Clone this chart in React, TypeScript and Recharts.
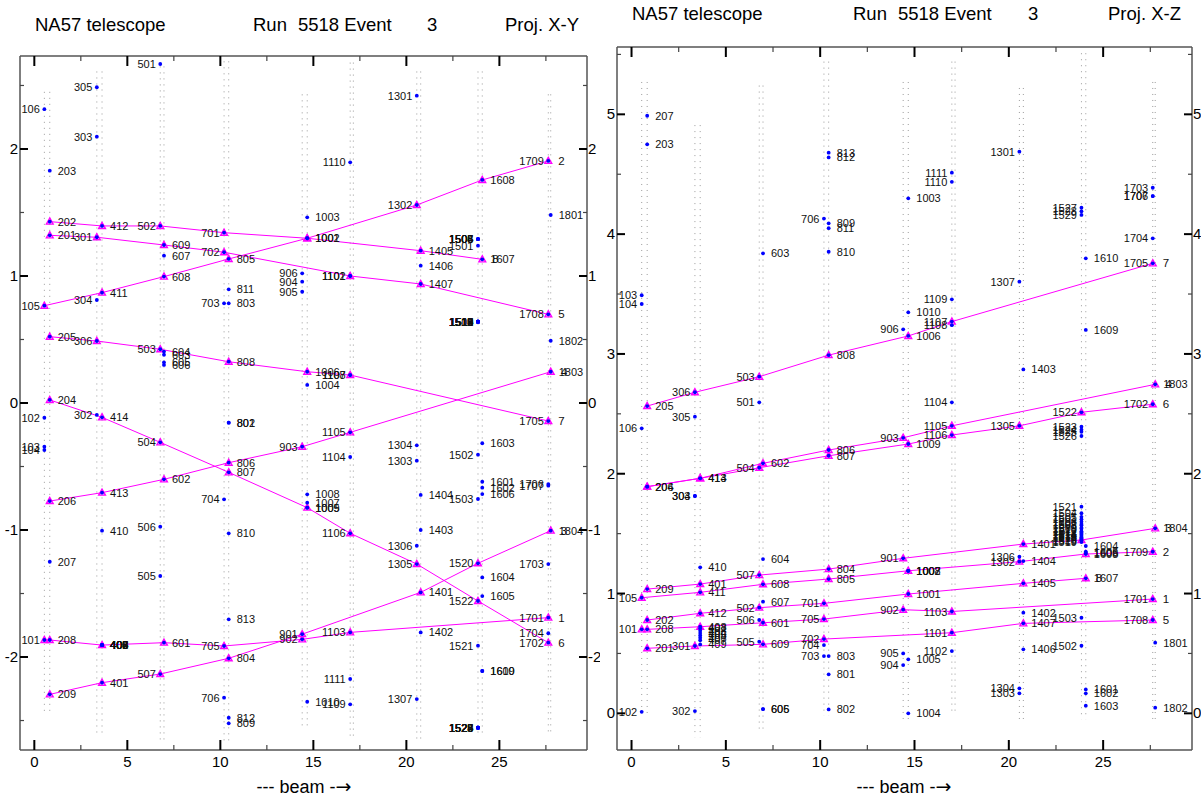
import React from 'react';
import { ScatterChart, Scatter, XAxis, YAxis, ReferenceLine } from 'recharts';

// ---------- data ----------
// x position (along beam) of each detector plane 1..18
const PLANE_X = [0.54, 0.83, 3.36, 3.64, 6.77, 6.97, 10.2, 10.45, 14.4, 14.67, 16.98, 17.15, 20.56, 20.77, 23.85, 24.08, 27.63, 27.76];

// vertical extent [top, bottom] of each plane's dotted line
const SPAN_XY: [number, number][] = [
  [2.45, -2.45], [2.45, -2.45], [2.61, -2.61], [2.61, -2.61], [2.65, -2.65], [2.65, -2.65],
  [2.69, -2.68], [2.69, -2.68], [2.43, -2.57], [2.43, -2.57], [2.68, -2.63], [2.68, -2.63],
  [2.61, -2.68], [2.61, -2.68], [2.61, -2.61], [2.61, -2.61], [2.43, -2.62], [2.43, -2.62],
];
const SPAN_XZ: [number, number][] = [
  [5.27, -0.01], [5.27, -0.01], [4.91, -0.2], [4.91, -0.2], [5.24, -0.15], [5.24, -0.15],
  [5.44, -0.02], [5.44, -0.02], [5.27, -0.05], [5.27, -0.05], [5.44, 0.0], [5.44, 0.0],
  [5.22, -0.05], [5.22, -0.05], [5.51, -0.05], [5.51, -0.05], [5.27, -0.07], [5.27, -0.07],
];

// hits: [hit id, coordinate]; plane = id / 100
const HITS_XY: [string, number][] = [
  ['101', -1.866], ['102', -0.116], ['103', -0.344], ['104', -0.37], ['105', 0.766], ['106', 2.313],
  ['201', 1.32], ['202', 1.428], ['203', 1.829], ['204', 0.024], ['205', 0.522], ['206', -0.772], ['207', -1.25], ['208', -1.866], ['209', -2.294],
  ['301', 1.305], ['302', -0.094], ['303', 2.097], ['304', 0.811], ['305', 2.486], ['306', 0.488],
  ['401', -2.202], ['402', -1.906], ['403', -1.906], ['404', -1.906], ['405', -1.906], ['406', -1.906], ['407', -1.906], ['408', -1.906], ['409', -1.906], ['410', -1.005], ['411', 0.869], ['412', 1.394], ['413', -0.706], ['414', -0.113],
  ['501', 2.669], ['502', 1.394], ['503', 0.423], ['504', -0.31], ['505', -1.362], ['506', -0.974], ['507', -2.134],
  ['601', -1.887], ['602', -0.601], ['603', 0.38], ['604', 0.405], ['605', 0.32], ['606', 0.3], ['607', 1.16], ['608', 0.995], ['609', 1.244],
  ['701', 1.341], ['702', 1.187], ['703', 0.785], ['704', -0.758], ['705', -1.913], ['706', -2.32],
  ['801', -0.155], ['802', -0.155], ['803', 0.785], ['804', -2.01], ['805', 1.134], ['806', -0.47], ['807', -0.546], ['808', 0.325], ['809', -2.522], ['810', -1.026], ['811', 0.895], ['812', -2.478], ['813', -1.703],
  ['901', -1.82], ['902', -1.861], ['903', -0.344], ['904', 0.955], ['905', 0.876], ['906', 1.021],
  ['1001', 1.297], ['1002', 1.297], ['1003', 1.462], ['1004', 0.142], ['1005', -0.824], ['1006', 0.246], ['1007', -0.785], ['1008', -0.719], ['1009', -0.824], ['1010', -2.352],
  ['1101', 1.0], ['1102', 1.0], ['1103', -1.806], ['1104', -0.425], ['1105', -0.231], ['1106', -1.026], ['1107', 0.22], ['1108', 0.22], ['1109', -2.372], ['1110', 1.895], ['1111', -2.173],
  ['1301', 2.42], ['1302', 1.559], ['1303', -0.454], ['1304', -0.333], ['1305', -1.268], ['1306', -1.124], ['1307', -2.331],
  ['1401', -1.491], ['1402', -1.806], ['1403', -1.0], ['1404', -0.724], ['1405', 1.199], ['1406', 1.081], ['1407', 0.937],
  ['1501', 1.239], ['1502', -0.407], ['1503', -0.756], ['1504', 1.291], ['1505', 1.291], ['1506', 1.291], ['1507', 1.291], ['1508', 1.291],
  ['1509', 0.64], ['1510', 0.64], ['1511', 0.64], ['1512', 0.64], ['1513', 0.64], ['1514', 0.64], ['1515', 0.64], ['1516', 0.64], ['1517', 0.64], ['1518', 0.64], ['1519', 0.64],
  ['1520', -1.262], ['1521', -1.911], ['1522', -1.559], ['1523', -2.557], ['1524', -2.557], ['1525', -2.557], ['1526', -2.557], ['1527', -2.557], ['1528', -2.557], ['1529', -2.557],
  ['1601', -0.62], ['1602', -0.667], ['1603', -0.317], ['1604', -1.373], ['1605', -1.52], ['1606', -0.717], ['1607', 1.131], ['1608', 1.756], ['1609', -2.11], ['1610', -2.11],
  ['1701', -1.69], ['1702', -1.887], ['1703', -1.268], ['1704', -1.813], ['1705', -0.142], ['1706', -0.638], ['1707', -0.651], ['1708', 0.698], ['1709', 1.906],
  ['1801', 1.48], ['1802', 0.49], ['1803', 0.246], ['1804', -1.005],
];

const HITS_XZ: [string, number][] = [
  ['101', 0.701], ['102', 0.013], ['103', 3.49], ['104', 3.417], ['105', 0.965], ['106', 2.379],
  ['201', 0.543], ['202', 0.779], ['203', 4.75], ['204', 1.892], ['205', 2.565], ['206', 1.892], ['207', 4.988], ['208', 0.701], ['209', 1.037],
  ['301', 0.562], ['302', 0.019], ['303', 1.814], ['304', 1.814], ['305', 2.476], ['306', 2.68],
  ['401', 1.079], ['402', 0.71], ['403', 0.69], ['404', 0.67], ['405', 0.65], ['406', 0.63], ['407', 0.61], ['408', 0.723], ['409', 0.575], ['410', 1.219], ['411', 1.01], ['412', 0.835], ['413', 1.962], ['414', 1.962],
  ['501', 2.596], ['502', 0.882], ['503', 2.81], ['504', 2.05], ['505', 0.598], ['506', 0.779], ['507', 1.154],
  ['601', 0.756], ['602', 2.087], ['603', 3.84], ['604', 1.288], ['605', 0.036], ['606', 0.036], ['607', 0.932], ['608', 1.077], ['609', 0.576],
  ['701', 0.918], ['702', 0.62], ['703', 0.478], ['704', 0.57], ['705', 0.787], ['706', 4.13],
  ['801', 0.326], ['802', 0.033], ['803', 0.478], ['804', 1.204], ['805', 1.121], ['806', 2.198], ['807', 2.15], ['808', 2.99], ['809', 4.09], ['810', 3.853], ['811', 4.05], ['812', 4.64], ['813', 4.68],
  ['901', 1.294], ['902', 0.865], ['903', 2.3], ['904', 0.403], ['905', 0.5], ['906', 3.205],
  ['1001', 0.996], ['1002', 1.19], ['1003', 4.299], ['1004', 0.0], ['1005', 0.451], ['1006', 3.15], ['1007', 1.19], ['1008', 1.19], ['1009', 2.248], ['1010', 3.347],
  ['1101', 0.673], ['1102', 0.52], ['1103', 0.85], ['1104', 2.596], ['1105', 2.4], ['1106', 2.323], ['1107', 3.27], ['1108', 3.24], ['1109', 3.456], ['1110', 4.437], ['1111', 4.513],
  ['1301', 4.688], ['1302', 1.266], ['1303', 0.167], ['1304', 0.209], ['1305', 2.4], ['1306', 1.307], ['1307', 3.603],
  ['1401', 1.413], ['1402', 0.84], ['1403', 2.871], ['1404', 1.271], ['1405', 1.085], ['1406', 0.534], ['1407', 0.751],
  ['1501', 1.62], ['1502', 0.564], ['1503', 0.798], ['1504', 1.67], ['1505', 1.64], ['1506', 1.6], ['1507', 1.58], ['1508', 1.57], ['1509', 1.55], ['1510', 1.54],
  ['1511', 1.52], ['1512', 1.51], ['1513', 1.5], ['1514', 1.49], ['1515', 1.48], ['1516', 1.47], ['1517', 1.46], ['1518', 1.44], ['1519', 1.43],
  ['1520', 1.447], ['1521', 1.725], ['1522', 2.513], ['1523', 2.392], ['1524', 2.367], ['1525', 2.35], ['1526', 2.315], ['1527', 4.22], ['1528', 4.19], ['1529', 4.16],
  ['1601', 0.2], ['1602', 0.167], ['1603', 0.064], ['1604', 1.397], ['1605', 1.35], ['1606', 1.34], ['1607', 1.127], ['1608', 1.33], ['1609', 3.2], ['1610', 3.798],
  ['1701', 0.954], ['1702', 2.58], ['1703', 4.387], ['1704', 3.965], ['1705', 3.756], ['1706', 4.318], ['1707', 4.318], ['1708', 0.779], ['1709', 1.349],
  ['1801', 0.59], ['1802', 0.047], ['1803', 2.746], ['1804', 1.544],
];

// reconstructed tracks (hit ids in beam order)
const TRACK_LABELS = ['1', '2', '3', '4', '5', '6', '7', '8'];
const TRACK_HITS: string[][] = [
  ['101', '208', '408', '601', '705', '902', '1103', '1701'],
  ['105', '411', '608', '805', '1002', '1302', '1608', '1709'],
  ['209', '401', '507', '804', '901', '1401', '1520', '1804'],
  ['206', '413', '602', '806', '903', '1105', '1803'],
  ['201', '301', '609', '702', '1101', '1407', '1708'],
  ['204', '414', '504', '807', '1009', '1106', '1305', '1522', '1702'],
  ['205', '306', '503', '808', '1006', '1107', '1705'],
  ['202', '412', '502', '701', '1001', '1405', '1607'],
];

const X_TICKS = [0, 2.5, 5, 7.5, 10, 12.5, 15, 17.5, 20, 22.5, 25, 27.5];
const Y_TICKS_XY = [-2.5, -2, -1.5, -1, -0.5, 0, 0.5, 1, 1.5, 2, 2.5];
const Y_TICKS_XZ = [0, 0.5, 1, 1.5, 2, 2.5, 3, 3.5, 4, 4.5, 5, 5.5];
const X_DOMAIN: [number, number] = [-0.77, 29.71];
const Y_DOMAIN_XY: [number, number] = [-2.732, 2.732];
const Y_DOMAIN_XZ: [number, number] = [-0.306, 5.562];

// ---------- helpers ----------
const FONT = '"Liberation Sans", Arial, Helvetica, sans-serif';
const MAGENTA = '#ff00ff';

type Hit = { id: string; plane: number; x: number; y: number };

function buildHits(list: [string, number][]): Hit[] {
  return list.map(([id, y]) => {
    const plane = Math.floor(Number(id) / 100);
    return { id, plane, x: PLANE_X[plane - 1], y };
  });
}

function buildTracks(hits: Hit[]) {
  const map = new Map(hits.map((h) => [h.id, h]));
  return TRACK_HITS.map((ids, t) =>
    ids.map((id, i) => ({ ...(map.get(id) as Hit), last: i === ids.length - 1, label: TRACK_LABELS[t] }))
  );
}

const isMajorX = (v: number) => Math.abs(v / 5 - Math.round(v / 5)) < 1e-6;
const isInt = (v: number) => Math.abs(v - Math.round(v)) < 1e-6;

const BottomTick = (p: any) => {
  const v = p.payload.value;
  const m = isMajorX(v);
  return (
    <g>
      <line x1={p.x} x2={p.x} y1={p.y} y2={p.y - (m ? 10 : 5)} stroke={m ? '#000' : '#444'} strokeWidth={m ? 2 : 1.2} />
      {m && (
        <text x={p.x} y={p.y + 17} textAnchor="middle" fontSize={15} fontFamily={FONT} fill="#000">
          {v}
        </text>
      )}
    </g>
  );
};
const TopTick = (p: any) => {
  const m = isMajorX(p.payload.value);
  return <line x1={p.x} x2={p.x} y1={p.y} y2={p.y + (m ? 10 : 5)} stroke={m ? '#000' : '#444'} strokeWidth={m ? 2 : 1.2} />;
};
const LeftTick = (p: any) => {
  const v = p.payload.value;
  const m = isInt(v);
  return (
    <g>
      <line x1={p.x} x2={p.x + (m ? 8 : 4)} y1={p.y} y2={p.y} stroke={m ? '#000' : '#444'} strokeWidth={m ? 2 : 1.2} />
      {m && (
        <text x={p.x - 2} y={p.y + 5} textAnchor="end" fontSize={15} fontFamily={FONT} fill="#000">
          {Math.round(v)}
        </text>
      )}
    </g>
  );
};
const RightTick = (p: any) => {
  const v = p.payload.value;
  const m = isInt(v);
  return (
    <g>
      <line x1={p.x} x2={p.x - (m ? 8 : 4)} y1={p.y} y2={p.y} stroke={m ? '#000' : '#444'} strokeWidth={m ? 2 : 1.2} />
      {m && (
        <text x={p.x + 1} y={p.y + 5} textAnchor="start" fontSize={15} fontFamily={FONT} fill="#000">
          {Math.round(v)}
        </text>
      )}
    </g>
  );
};

const HitShape = (props: any) => {
  const { cx, cy, payload } = props;
  const left = payload.plane % 2 === 1;
  return (
    <g>
      <circle cx={cx} cy={cy} r={1.9} fill="#0000ff" />
      <text
        x={left ? cx - 4.5 : cx + 8}
        y={cy + 4}
        textAnchor={left ? 'end' : 'start'}
        fontSize={11}
        fontFamily={FONT}
        fill="#111"
      >
        {payload.id}
      </text>
    </g>
  );
};

const TriShape = (props: any) => {
  const { cx, cy, payload } = props;
  return (
    <g>
      <polygon
        points={`${cx},${cy - 3.6} ${cx - 3.4},${cy + 2.5} ${cx + 3.4},${cy + 2.5}`}
        fill="none"
        stroke={MAGENTA}
        strokeWidth={1.4}
      />
      {payload.last && (
        <text x={cx + 10} y={cy + 4} fontSize={11.5} fontFamily={FONT} fill="#111">
          {payload.label}
        </text>
      )}
    </g>
  );
};

const axisStyle = { stroke: '#555', strokeWidth: 1.5 };

type PanelProps = {
  left: number;
  width: number;
  margin: { top: number; left: number; right: number; bottom: number };
  yDomain: [number, number];
  yTicks: number[];
  hitsRaw: [string, number][];
  spans: [number, number][];
};

function Panel({ left, width, margin, yDomain, yTicks, hitsRaw, spans }: PanelProps) {
  const hits = buildHits(hitsRaw);
  const tracks = buildTracks(hits);
  return (
    <div style={{ position: 'absolute', left, top: 0 }}>
      <ScatterChart width={width} height={804} margin={margin}>
        <XAxis xAxisId="b" dataKey="x" type="number" orientation="bottom" domain={X_DOMAIN} allowDataOverflow ticks={X_TICKS} interval={0} height={1} tickSize={0} tickMargin={0} tickLine={false} axisLine={axisStyle} tick={(p: any) => <BottomTick {...p} />} />
        <XAxis xAxisId="t" dataKey="x" type="number" orientation="top" domain={X_DOMAIN} allowDataOverflow ticks={X_TICKS} interval={0} height={1} tickSize={0} tickMargin={0} tickLine={false} axisLine={axisStyle} tick={(p: any) => <TopTick {...p} />} />
        <YAxis yAxisId="l" dataKey="y" type="number" orientation="left" domain={yDomain} allowDataOverflow ticks={yTicks} interval={0} width={1} tickSize={0} tickMargin={0} tickLine={false} axisLine={axisStyle} tick={(p: any) => <LeftTick {...p} />} />
        <YAxis yAxisId="r" dataKey="y" type="number" orientation="right" domain={yDomain} allowDataOverflow ticks={yTicks} interval={0} width={1} tickSize={0} tickMargin={0} tickLine={false} axisLine={axisStyle} tick={(p: any) => <RightTick {...p} />} />
        {spans.map((s, i) => (
          <ReferenceLine
            key={`pl${i}`}
            xAxisId="b"
            yAxisId="l"
            segment={[{ x: PLANE_X[i], y: s[0] }, { x: PLANE_X[i], y: s[1] }]}
            stroke="#9a9a9a"
            strokeWidth={1}
            strokeDasharray="1 5"
            ifOverflow="visible"
          />
        ))}
        {tracks.map((tr, i) => (
          <Scatter
            key={`tr${i}`}
            xAxisId="b"
            yAxisId="l"
            data={tr}
            line={{ stroke: MAGENTA, strokeWidth: 1 }}
            shape={TriShape}
            isAnimationActive={false}
          />
        ))}
        <Scatter xAxisId="b" yAxisId="l" data={hits} shape={HitShape} isAnimationActive={false} />
      </ScatterChart>
    </div>
  );
}

export default function App() {
  const t = { fontFamily: FONT, fill: '#000' };
  return (
    <div style={{ position: 'absolute', left: 0, top: 0, width: 1201, height: 804, background: '#fff' }}>
      <Panel
        left={0}
        width={600}
        margin={{ top: 55, left: 19, right: 12, bottom: 53 }}
        yDomain={Y_DOMAIN_XY}
        yTicks={Y_TICKS_XY}
        hitsRaw={HITS_XY}
        spans={SPAN_XY}
      />
      <Panel
        left={600}
        width={601}
        margin={{ top: 46, left: 16, right: 8, bottom: 53 }}
        yDomain={Y_DOMAIN_XZ}
        yTicks={Y_TICKS_XZ}
        hitsRaw={HITS_XZ}
        spans={SPAN_XZ}
      />
      <svg width={1201} height={804} style={{ position: 'absolute', left: 0, top: 0, pointerEvents: 'none' }}>
        <g fontSize={18.5} {...t}>
          <text x={35} y={31}>NA57 telescope</text>
          <text x={253} y={31}>Run</text>
          <text x={298} y={31}>5518 Event</text>
          <text x={427} y={31}>3</text>
          <text x={505} y={31}>Proj. X-Y</text>
          <text x={632} y={20}>NA57 telescope</text>
          <text x={853} y={20}>Run</text>
          <text x={898} y={20}>5518 Event</text>
          <text x={1028} y={20}>3</text>
          <text x={1108} y={20}>Proj. X-Z</text>
        </g>
        <g fontSize={18} {...t}>
          <text x={304} y={793} textAnchor="middle">
            --- beam -<tspan fontFamily="DejaVu Sans" fontSize={19}>→</tspan>
          </text>
          <text x={904} y={793} textAnchor="middle">
            --- beam -<tspan fontFamily="DejaVu Sans" fontSize={19}>→</tspan>
          </text>
        </g>
      </svg>
    </div>
  );
}
